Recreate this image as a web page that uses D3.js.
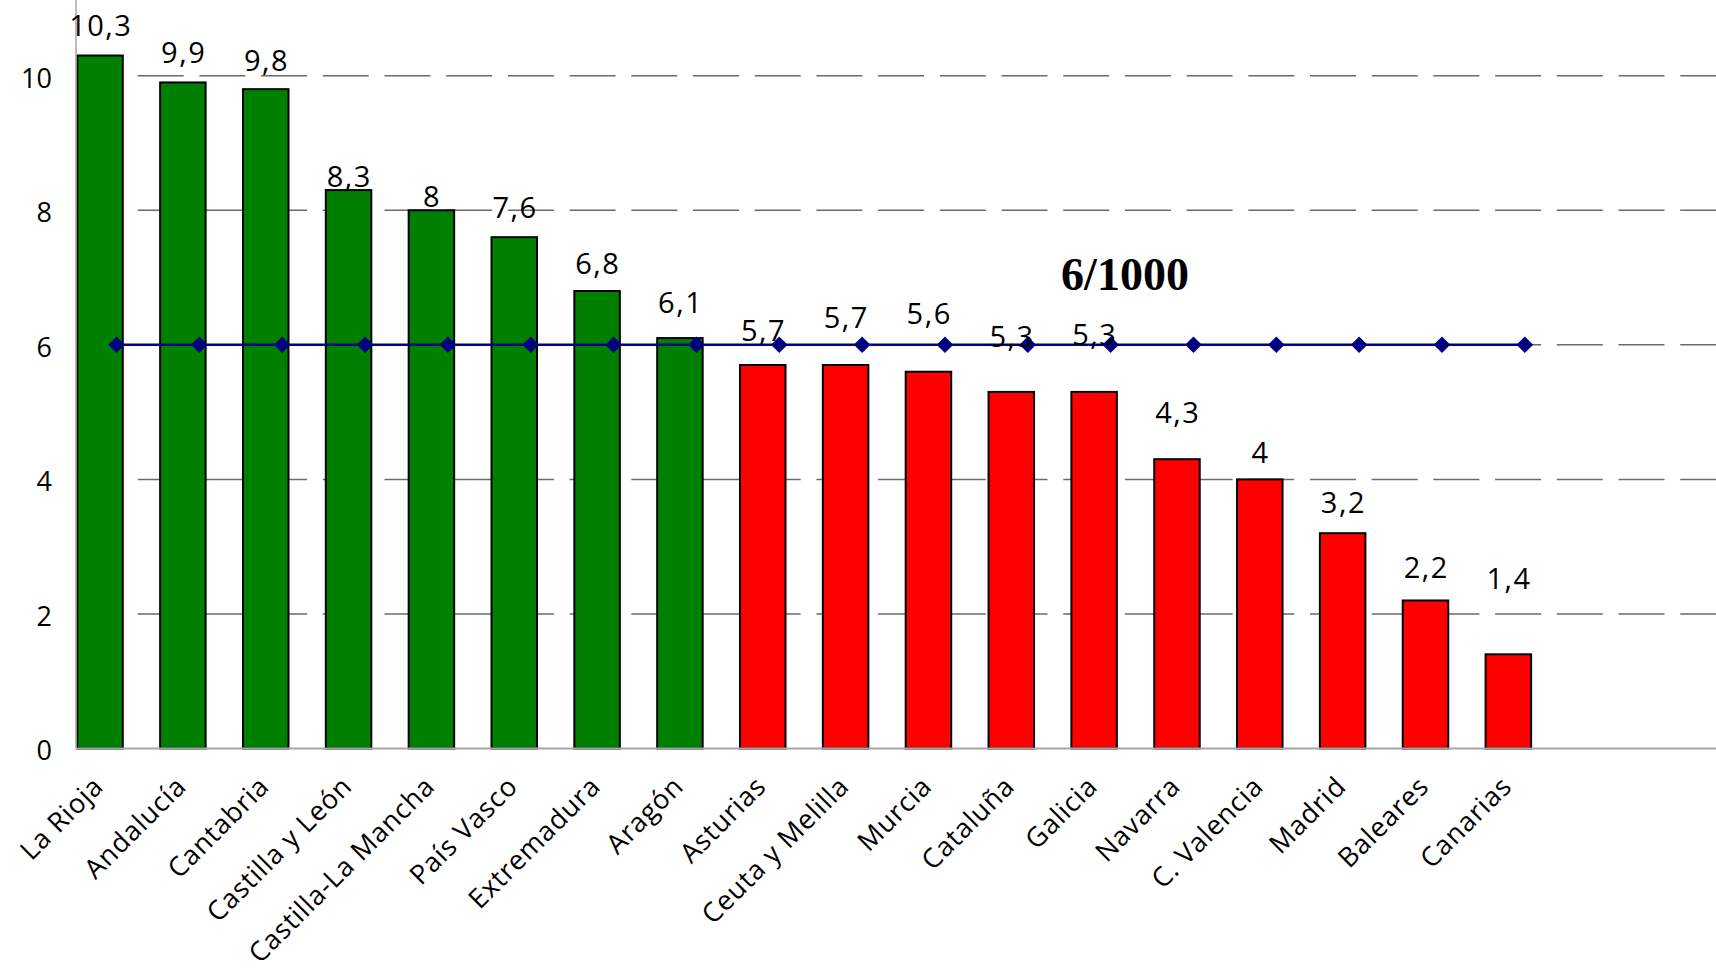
<!DOCTYPE html>
<html>
<head>
<meta charset="utf-8">
<script src="https://cdn.jsdelivr.net/npm/d3@7"></script>
<style>
  html, body { margin: 0; padding: 0; background: #ffffff; }
  svg { display: block; }
</style>
</head>
<body>
<svg id="chart" width="1716" height="974"></svg>
<script>
// ---- data ----
const categories = ["La Rioja", "Andalucía", "Cantabria", "Castilla y León", "Castilla-La Mancha",
  "País Vasco", "Extremadura", "Aragón", "Asturias", "Ceuta y Melilla", "Murcia", "Cataluña",
  "Galicia", "Navarra", "C. Valencia", "Madrid", "Baleares", "Canarias"];
const values = [10.3, 9.9, 9.8, 8.3, 8, 7.6, 6.8, 6.1, 5.7, 5.7, 5.6, 5.3, 5.3, 4.3, 4, 3.2, 2.2, 1.4];
const reference = [6, 6, 6, 6, 6, 6, 6, 6, 6, 6, 6, 6, 6, 6, 6, 6, 6, 6];
const yTicks = [0, 2, 4, 6, 8, 10];
const referenceLabel = "6/1000";

// ---- layout (not data) ----
const W = 1716, H = 974;
const axisX = 76, zeroY = 748.5, tenY = 75.7;
const labelLift = [19.5, 19.8, 18.6, 3, 3, 19, 17, 25, 24, 37, 48, 45, 47, 36, 16, 20, 22, 65];

const svg = d3.select("#chart");
const comma = d3.formatLocale({decimal: ",", thousands: ".", grouping: [3], currency: ["", "€"]}).format("~g");

const y = d3.scaleLinear().domain([0, 10]).range([zeroY, tenY]);
const step = 82.84;
const pi = 1 - 45.5 / step;
const r0 = 77.3 - (pi / 2) * step;
const x = d3.scaleBand().domain(categories).range([r0, r0 + categories.length * step])
  .paddingInner(pi).paddingOuter(pi / 2);
const xLine = d3.scalePoint().domain(categories)
  .range([x(categories[0]) + x.bandwidth() / 2 + 16.5, x(categories[categories.length - 1]) + x.bandwidth() / 2 + 16.5]);

// gridlines
svg.append("g").selectAll("line").data(yTicks.filter(t => t > 0)).join("line")
  .attr("x1", axisX).attr("x2", W)
  .attr("y1", d => y(d)).attr("y2", d => y(d))
  .attr("stroke", "#6b6b6b").attr("stroke-width", 1.5)
  .attr("stroke-dasharray", "46 15.7");

// bars
svg.append("g").selectAll("rect").data(values).join("rect")
  .attr("x", (d, i) => x(categories[i]))
  .attr("width", x.bandwidth())
  .attr("y", d => y(d))
  .attr("height", d => y(0) - y(d))
  .attr("fill", d => d > 6 ? "#008000" : "#ff0000")
  .attr("stroke", "#000").attr("stroke-width", 2);

// axes lines
svg.append("line").attr("x1", axisX).attr("x2", axisX).attr("y1", 0).attr("y2", y(0))
  .attr("stroke", "#a6a6a6").attr("stroke-width", 1.5);
svg.append("line").attr("x1", axisX).attr("x2", W).attr("y1", y(0)).attr("y2", y(0))
  .attr("stroke", "#a6a6a6").attr("stroke-width", 2);

// y tick labels via axis
const yAxis = d3.axisLeft(y).tickValues(yTicks).tickSize(0).tickPadding(24).tickFormat(d => comma(d));
const gy = svg.append("g").attr("transform", `translate(${axisX},0)`).call(yAxis);
gy.select(".domain").remove();
gy.selectAll("text").attr("font-family", "'Open Sans', sans-serif").attr("font-size", 27)
  .attr("fill", "#000").attr("dy", "0.42em");

// reference line
const line = d3.line().x((d, i) => xLine(categories[i])).y(d => y(d));
svg.append("path").datum(reference).attr("d", line)
  .attr("fill", "none").attr("stroke", "#000080").attr("stroke-width", 2.5);
svg.append("g").selectAll("path").data(reference).join("path")
  .attr("d", d3.symbol().type(d3.symbolDiamond2).size(175))
  .attr("transform", (d, i) => `translate(${xLine(categories[i])},${y(d)})`)
  .attr("fill", "#000080");

// data labels
svg.append("g").selectAll("text").data(values).join("text")
  .attr("x", (d, i) => x(categories[i]) + x.bandwidth() / 2 + 0.75)
  .attr("y", (d, i) => y(d) - labelLift[i])
  .attr("text-anchor", "middle")
  .attr("font-family", "'Open Sans', sans-serif").attr("font-size", 29)
  .attr("letter-spacing", "1.5px")
  .attr("fill", "#000")
  .text(d => comma(d));

// reference label
svg.append("text")
  .attr("x", 1125).attr("y", 290)
  .attr("text-anchor", "middle")
  .attr("font-family", "'Liberation Serif', serif").attr("font-weight", "bold").attr("font-size", 46)
  .attr("fill", "#000")
  .text(referenceLabel);

// x category labels
svg.append("g").selectAll("text").data(categories).join("text")
  .attr("transform", d => `translate(${x(d) + x.bandwidth() / 2 + 5},788) rotate(-45)`)
  .attr("text-anchor", "end")
  .attr("font-family", "'Open Sans', sans-serif").attr("font-size", 27)
  .attr("letter-spacing", "0.8px")
  .attr("fill", "#000")
  .text(d => d);
</script>
</body>
</html>
